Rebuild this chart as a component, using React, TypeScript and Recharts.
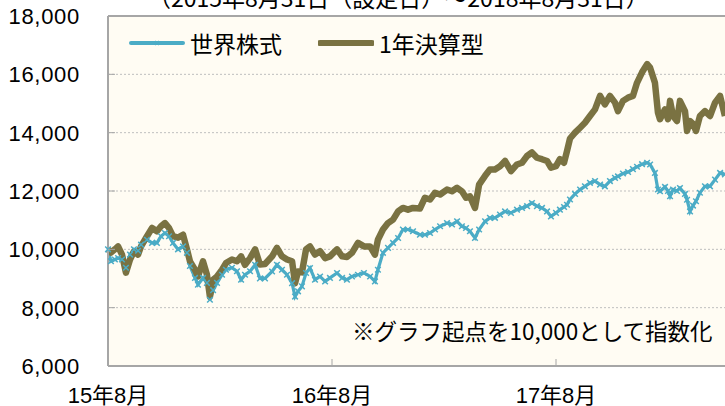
import { LineChart, Line, XAxis, YAxis, CartesianGrid, ReferenceLine } from "recharts";

// elapsed months since 2015-08-31 (設定日)
const months = [
  0, 0.16, 0.37, 0.54, 0.75, 0.96, 1.18, 1.39, 1.61, 1.77, 2.09, 2.36, 2.62, 2.84, 3.05, 3.27, 3.48,
  3.75, 4.02, 4.23, 4.39, 4.66, 4.82, 5.09, 5.3, 5.46, 5.63, 5.84, 6.11, 6.32, 6.64, 6.91, 7.13, 7.34,
  7.61, 7.88, 8.14, 8.41, 8.79, 9.05, 9.32, 9.59, 9.86, 10.02, 10.18, 10.39, 10.61, 10.82, 11.09, 11.36,
  11.63, 11.89, 12.27, 12.54, 12.8, 13.07, 13.39, 13.71, 14.04, 14.3, 14.46, 14.73, 15.0, 15.27, 15.54,
  15.8, 16.07, 16.34, 16.71, 16.98, 17.25, 17.52, 17.79, 18.16, 18.43, 18.7, 18.96, 19.18, 19.39, 19.66,
  19.88, 20.2, 20.46, 20.73, 21.0, 21.27, 21.59, 21.91, 22.18, 22.45, 22.71, 22.98, 23.25, 23.52, 23.73,
  24.0, 24.21, 24.43, 24.59, 24.75, 25.02, 25.29, 25.55, 25.82, 26.09, 26.36, 26.62, 26.89, 27.16, 27.32,
  27.59, 27.86, 28.12, 28.34, 28.61, 28.88, 29.04, 29.3, 29.46, 29.57, 29.84, 30.0, 30.11, 30.27, 30.48,
  30.64, 30.91, 31.02, 31.18, 31.34, 31.5, 31.71, 31.98, 32.25, 32.52, 32.79, 33.05,
];

const worldStock = [
  10000, 9590, 9650, 9700, 9650, 9370, 9820, 10000, 9950, 10160, 10330, 10220, 10220, 10450, 10560, 10450, 10220,
  10000, 10100, 9880, 9430, 9020, 8790, 9020, 8850, 8270, 8600, 8850, 9130, 9300, 9370, 9250, 8960, 9130,
  9250, 9470, 9000, 9000, 9240, 9470, 9300, 9130, 8840, 8380, 8560, 8730, 9190, 9360, 8960, 9070,
  8900, 9020, 9190, 9020, 8960, 9070, 9130, 9190, 9070, 8900, 9300, 9880, 10050, 10220, 10390,
  10680, 10680, 10620, 10500, 10500, 10560, 10680, 10790, 10900, 10850, 10960, 10790, 10730, 10620, 10390,
  10680, 10960, 11080, 11080, 11190, 11300, 11250, 11360, 11420, 11480, 11590, 11480, 11420, 11300, 11130,
  11250, 11360, 11450, 11530, 11710, 11900, 12050, 12160, 12280, 12340, 12220, 12160, 12340, 12450, 12500,
  12600, 12650, 12750, 12830, 12920, 12970, 12910, 12620, 12050, 11990, 12140, 12000, 11820, 12050, 12000,
  12100, 11900, 11700, 11300, 11500, 11650, 11940, 12160, 12160, 12390, 12620, 12570,
];

const annualFund = [
  10000, 9890, 10000, 10100, 9820, 9200, 9650, 9930, 9820, 10100, 10450, 10730, 10620, 10790, 10900, 10730, 10450,
  10400, 10500, 10000, 9590, 9300, 9070, 9590, 9130, 8380, 8960, 9070, 9300, 9530, 9650, 9590, 9760, 9470,
  9700, 10000, 9480, 9500, 9760, 10050, 9760, 9650, 9590, 8840, 9240, 9210, 10000, 10100, 9820, 9940,
  9700, 9760, 10000, 9760, 9740, 9880, 10220, 10100, 10100, 9820, 10330, 10680, 10900, 11020, 11300,
  11420, 11360, 11420, 11400, 11770, 11710, 11940, 11880, 12050, 11990, 12110, 11990, 11770, 11820, 11420,
  12220, 12520, 12740, 12740, 12850, 13030, 12680, 12910, 12970, 13200, 13320, 13140, 13090, 13030, 12800,
  12850, 13090, 12970, 13370, 13800, 14000, 14170, 14340, 14570, 14800, 15260, 14970, 15260, 15030, 14740,
  15090, 15200, 15260, 15710, 16070, 16350, 16230, 15710, 14690, 14460, 14800, 14460, 15090, 14570, 14400,
  15090, 14740, 14060, 14400, 14300, 14060, 14570, 14740, 14570, 15030, 15260, 14570,
];

const xTickMonths = [0, 12, 24, 36];
const xTickLabels = ["15年8月", "16年8月", "17年8月", "18年8月"];
const yTicks = [6000, 8000, 10000, 12000, 14000, 16000, 18000];
const seriesNames = ["世界株式", "1年決算型"];

const BLUE = "#4BACC6";
const OLIVE = "#7A7242";
const FONT = '"Liberation Sans", Arial, "Noto Sans CJK JP", sans-serif';
const JP_FONT = '"Noto Sans CJK JP", sans-serif';

const data = months.map((m, i) => ({ m, world: worldStock[i], fund: annualFund[i] }));

const CrossDot = (props: any) => {
  const { cx, cy, index } = props;
  if (cx == null || cy == null) return <g key={index} />;
  const r = 2.8;
  return (
    <path
      key={index}
      d={`M${cx - r},${cy - r}L${cx + r},${cy + r}M${cx - r},${cy + r}L${cx + r},${cy - r}`}
      stroke={BLUE}
      strokeWidth={1.5}
    />
  );
};

const YTick = ({ y, payload }: any) => (
  <g>
    <line x1={108} x2={115} y1={y} y2={y} stroke="#A6A6A6" strokeWidth={1} />
    <text x={80} y={y} dy={8} textAnchor="end" fontSize={22} letterSpacing={0.7} fill="#000" fontFamily={FONT}>
      {payload.value.toLocaleString("en-US")}
    </text>
  </g>
);

const XTick = ({ x, payload }: any) => {
  const label = xTickLabels[xTickMonths.indexOf(payload.value)];
  return (
    <g>
      {payload.value > 0 && <line x1={x} x2={x} y1={366} y2={359} stroke="#A6A6A6" strokeWidth={1} />}
      <text x={x} y={403} textAnchor="middle" fontSize={22} fill="#000" fontFamily={FONT}>
        {label}
      </text>
    </g>
  );
};

export default function App() {
  return (
    <div style={{ position: "fixed", top: 0, left: 0, width: 725, height: 406, overflow: "hidden", background: "#fff" }}>
      <div
        style={{
          position: "absolute",
          top: -14,
          left: 148,
          fontFamily: JP_FONT,
          fontSize: 23,
          lineHeight: "23px",
          whiteSpace: "nowrap",
          color: "#000",
        }}
      >
        （2015年8月31日（設定日）～2018年8月31日）
      </div>
      <div style={{ position: "absolute", top: 0, left: 0, width: 800, height: 406 }}>
        <LineChart width={800} height={406} data={data} margin={{ top: 16, right: 20, bottom: 0, left: 0 }}>
          <CartesianGrid horizontal vertical={false} fill="#FFFCF3" stroke="#BFBFBF" strokeDasharray="2 2" />
          <XAxis
            type="number"
            dataKey="m"
            domain={[0, 36]}
            ticks={xTickMonths}
            height={40}
            axisLine={{ stroke: "#A6A6A6", strokeWidth: 2 }}
            tickLine={false}
            tick={<XTick />}
            interval={0}
          />
          <YAxis
            domain={[6000, 18000]}
            ticks={yTicks}
            width={108}
            axisLine={{ stroke: "#A6A6A6", strokeWidth: 2 }}
            tickLine={false}
            tick={<YTick />}
            interval={0}
          />
          <ReferenceLine y={18000} stroke="#A6A6A6" strokeWidth={2} />
          <Line
            type="linear"
            dataKey="world"
            name={seriesNames[0]}
            stroke={BLUE}
            strokeWidth={3.2}
            dot={<CrossDot />}
            isAnimationActive={false}
          />
          <Line
            type="linear"
            dataKey="fund"
            name={seriesNames[1]}
            stroke={OLIVE}
            strokeWidth={6.5}
            strokeLinejoin="round"
            dot={false}
            isAnimationActive={false}
          />
        </LineChart>
      </div>
      <div
        style={{
          position: "absolute",
          top: 28,
          left: 129,
          display: "flex",
          alignItems: "center",
          fontFamily: JP_FONT,
          fontSize: 23,
          lineHeight: "30px",
          color: "#000",
          whiteSpace: "nowrap",
        }}
      >
        <svg width={56} height={10} style={{ marginRight: 5 }}>
          <line x1={2} x2={54} y1={5} y2={5} stroke={BLUE} strokeWidth={4} strokeLinecap="round" />
          <path d="M26,3L30,7M26,7L30,3" stroke={BLUE} strokeWidth={1.2} />
        </svg>
        <span style={{ marginRight: 36 }}>{seriesNames[0]}</span>
        <svg width={56} height={10} style={{ marginRight: 5 }}>
          <line x1={2} x2={54} y1={5} y2={5} stroke={OLIVE} strokeWidth={6} strokeLinecap="round" />
        </svg>
        <span>{seriesNames[1]}</span>
      </div>
      <div
        style={{
          position: "absolute",
          top: 315,
          left: 352,
          fontFamily: JP_FONT,
          fontSize: 22.5,
          lineHeight: "30px",
          whiteSpace: "nowrap",
          color: "#000",
        }}
      >
        ※グラフ起点を10,000として指数化
      </div>
    </div>
  );
}
